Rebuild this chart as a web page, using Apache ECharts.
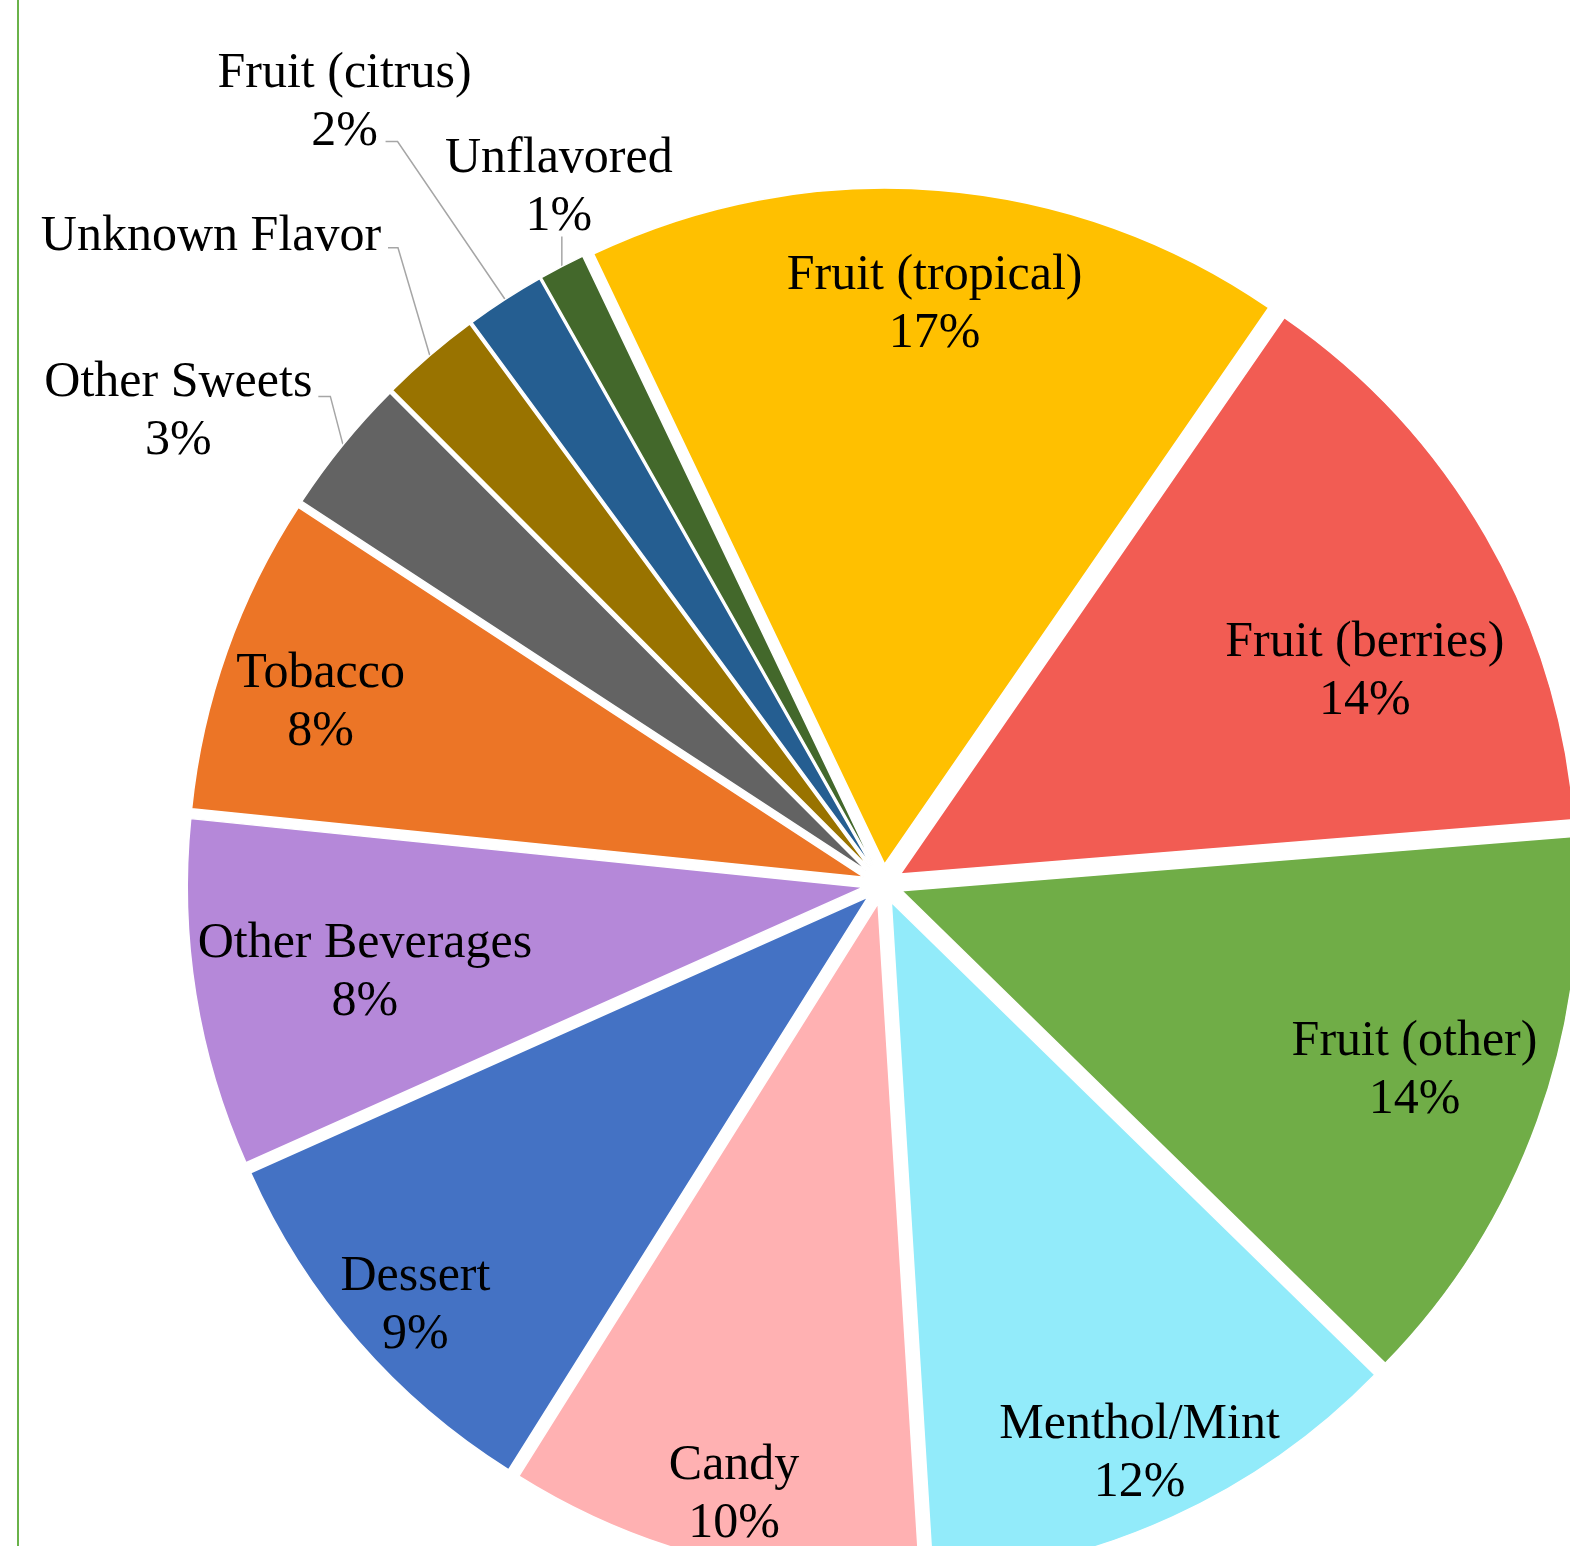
<!DOCTYPE html>
<html>
<head>
<meta charset="utf-8">
<script src="https://cdn.jsdelivr.net/npm/echarts@6/dist/echarts.min.js"></script>
<style>
  html, body { margin: 0; padding: 0; background: #ffffff; }
  #chart { width: 1570px; height: 1546px; }
</style>
</head>
<body>
<div id="chart"></div>
<script>
// Flavor categories, clockwise from the top
const flavors = ['Fruit (tropical)', 'Fruit (berries)', 'Fruit (other)', 'Menthol/Mint', 'Candy', 'Dessert',
  'Other Beverages', 'Tobacco', 'Other Sweets', 'Unknown Flavor', 'Fruit (citrus)', 'Unflavored'];
// Share of products per flavor category (%)
const shares = [16.7, 14.1, 13.6, 11.7, 9.9, 9.4, 8.3, 7.6, 3.3, 2.4, 1.9, 1.1];
const sliceColors = ['#FFC000', '#F25C53', '#70AD47', '#92EBFA', '#FFB1B2', '#4472C4',
  '#B588D9', '#EC7526', '#636363', '#997300', '#255E91', '#43682B'];
// Categories whose label shows only the name
const nameOnly = ['Unknown Flavor'];

// Pie geometry (px); angles in degrees clockwise from 12 o'clock
const CX = 883, CY = 884, RADIUS = 676, EXPLODE = 20, FIRST_EDGE = -25.5;
const FONT = '"Liberation Serif", "DejaVu Serif", serif';
// Extra downward shift of every label block, to sit the serif glyphs on their line
const TEXT_DROP = 4;

// Inside labels: [distance from centre, turn from the slice bisector]
const insideSpot = {
  'Fruit (tropical)': [582, 0.5],
  'Fruit (berries)': [525, 5.9],
  'Fruit (other)': [559, -0.9],
  'Menthol/Mint': [618, 0.2],
  'Candy': [622, -0.5],
  'Dessert': [624, -0.8],
  'Other Beverages': [522, -0.2],
  'Tobacco': [589, -1.3]
};
// Outside labels: leader elbow (turn, distance), horizontal tail, label centre relative to the tail end
const outsideSpot = {
  'Other Sweets': { turn: 2.3, dist: 737, tail: 12, dx: -140, dy: 11 },
  'Unknown Flavor': { turn: 3.3, dist: 800, tail: 10, dx: -177, dy: -15 },
  'Fruit (citrus)': { turn: -0.3, dist: 887, tail: 12, dx: -41, dy: -43 },
  'Unflavored': { rise: 30, tail: 0, dx: -3, dy: -53 }
};

const total = shares.reduce((a, b) => a + b, 0);
function bisector(i) {
  let before = 0;
  for (let k = 0; k < i; k++) before += shares[k];
  return FIRST_EDGE + (before + shares[i] / 2) / total * 360;
}
function polar(angle, dist) {
  const a = angle * Math.PI / 180;
  return [CX + dist * Math.sin(a), CY - dist * Math.cos(a)];
}
// Padding that moves a centred label block by (dx, dy)
function shiftPadding(dx, dy) {
  dy += TEXT_DROP;
  return [Math.max(2 * dy, 0), Math.max(-2 * dx, 0), Math.max(-2 * dy, 0), Math.max(2 * dx, 0)];
}
// Leader line of an outside label, in global coordinates
function leaderPoints(i) {
  const spot = outsideSpot[flavors[i]];
  const bis = bisector(i);
  const p0 = polar(bis, RADIUS + EXPLODE);
  const p1 = spot.rise != null ? [p0[0], p0[1] - spot.rise] : polar(bis + spot.turn, spot.dist);
  const p2 = [p1[0] - spot.tail, p1[1]];
  return [p0, p1, p2];
}

const data = flavors.map((name, i) => {
  const item = {
    name: name,
    value: shares[i],
    selected: true,
    itemStyle: { color: sliceColors[i] }
  };
  const bis = bisector(i);
  const out = outsideSpot[name];
  if (out) {
    const anchor = polar(bis, RADIUS + EXPLODE);
    const end = leaderPoints(i)[2];
    item.label = {
      position: 'outside',
      distanceToLabelLine: 0,
      padding: shiftPadding(end[0] + out.dx - anchor[0], end[1] + out.dy - anchor[1])
    };
    item.labelLine = { show: true, length: 0, length2: 0 };
  } else {
    const spot = insideSpot[name];
    const anchor = polar(bis, RADIUS / 2 + EXPLODE);
    const target = polar(bis + spot[1], spot[0]);
    item.label = {
      position: 'inside',
      padding: shiftPadding(target[0] - anchor[0], target[1] - anchor[1])
    };
    item.labelLine = { show: false };
  }
  return item;
});

const chart = echarts.init(document.getElementById('chart'), null, { renderer: 'canvas' });
chart.setOption({
  animation: false,
  backgroundColor: '#ffffff',
  graphic: [{
    type: 'line',
    shape: { x1: 18, y1: 0, x2: 18, y2: 1546 },
    style: { stroke: '#6AB24A', lineWidth: 2 },
    silent: true
  }],
  series: [{
    type: 'pie',
    center: [CX, CY],
    radius: [0, RADIUS],
    startAngle: 90 - FIRST_EDGE,
    clockwise: true,
    selectedMode: 'multiple',
    selectedOffset: EXPLODE,
    avoidLabelOverlap: false,
    minShowLabelAngle: 0,
    emphasis: { disabled: true },
    itemStyle: { borderColor: '#ffffff', borderWidth: 1.5 },
    label: {
      show: true,
      color: '#000000',
      fontFamily: FONT,
      fontSize: 50,
      lineHeight: 58,
      formatter: (p) => nameOnly.includes(p.name)
        ? '{n|' + p.name + '}'
        : '{n|' + p.name + '}\n{n|' + Math.round(p.value) + '%}',
      rich: {
        n: { align: 'center', fontFamily: FONT, fontSize: 50, lineHeight: 58, color: '#000000' }
      }
    },
    labelLine: {
      lineStyle: { color: '#A6A6A6', width: 1.5 }
    },
    labelLayout: (params) => {
      const i = params.dataIndex;
      const name = flavors[i];
      if (!outsideSpot[name]) return { align: 'center', verticalAlign: 'middle' };
      // The select offset is applied to the leader on top of these points
      const off = polar(bisector(i), EXPLODE);
      const pts = leaderPoints(i).map(p => [p[0] - (off[0] - CX), p[1] - (off[1] - CY)]);
      return { align: 'center', verticalAlign: 'middle', labelLinePoints: pts };
    },
    data: data
  }]
});
</script>
</body>
</html>
